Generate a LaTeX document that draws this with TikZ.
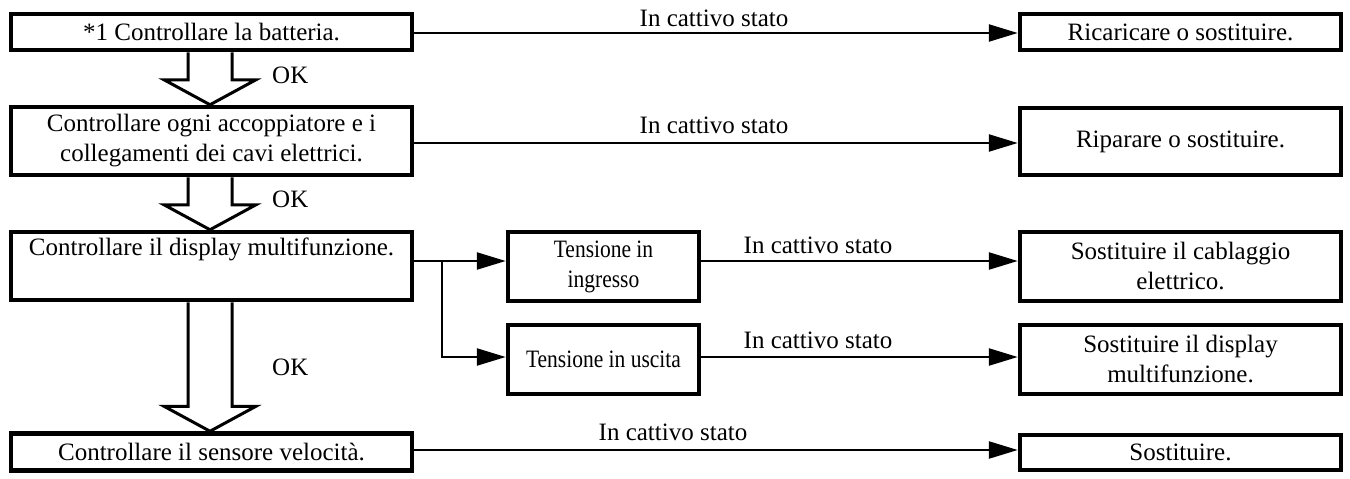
\documentclass[tikz,border=0pt]{standalone}
\usepackage{fontspec}
\setmainfont{Liberation Serif}
\usetikzlibrary{arrows.meta,calc}
\newcommand{\narrowtxt}[1]{\scalebox{0.86}[1]{#1}}
\begin{document}
\begin{tikzpicture}[x=1pt,y=-1pt,
  every node/.style={font=\fontsize{25pt}{30pt}\selectfont},
  box/.style={draw, line width=4.5pt, inner sep=0pt, align=center},
  conn/.style={line width=2.5pt, -{Triangle[length=29pt,width=17pt]}},
  hollow/.style={line width=3pt, line join=miter},
  lab/.style={anchor=base, inner sep=0pt},
  oklab/.style={anchor=west, inner sep=0pt}]
\useasboundingbox (0,0) rectangle (1350,479);
% left column
\node[box, minimum width=401pt, minimum height=36pt] (b1) at (211.5,32) {*1 Controllare la batteria.};
\node[box, minimum width=401pt, minimum height=68pt] (b2) at (211.5,141) {Controllare ogni accoppiatore e i\\collegamenti dei cavi elettrici.};
\node[box, minimum width=401pt, minimum height=68pt] (b3) at (211.5,266) {Controllare il display multifunzione.\\\strut};
\node[box, minimum width=401pt, minimum height=37pt] (b5) at (211.5,452) {Controllare il sensore velocità.};
% middle
\node[box, minimum width=191pt, minimum height=69pt] (ti) at (603.5,266.5) {\narrowtxt{Tensione in}\\\narrowtxt{ingresso}};
\node[box, minimum width=191pt, minimum height=69pt] (tu) at (603.5,359.5) {\narrowtxt{Tensione in uscita}};
% right column
\node[box, minimum width=321pt, minimum height=36pt] (r1) at (1180.5,32) {Ricaricare o sostituire.};
\node[box, minimum width=321pt, minimum height=67pt] (r2) at (1180.5,141.5) {Riparare o sostituire.};
\node[box, minimum width=321pt, minimum height=69pt] (r3) at (1180.5,266.5) {Sostituire il cablaggio\\elettrico.};
\node[box, minimum width=321pt, minimum height=69pt] (r4) at (1180.5,359.5) {Sostituire il display\\multifunzione.};
\node[box, minimum width=321pt, minimum height=35pt] (r5) at (1180.5,452.5) {Sostituire.};
% horizontal connectors
\draw[conn] ([yshift=-1pt]b1.east) -- ([yshift=-1pt]r1.west);
\draw[conn] ([yshift=-2pt]b2.east) -- ([yshift=-1.5pt]r2.west);
\draw[conn] ([yshift=5pt]b3.east) -- ([yshift=5.5pt]ti.west);
\coordinate (br) at (442,261);
\draw[conn] (br) |- ([yshift=2.5pt]tu.west);
\draw[conn] ([yshift=5.5pt]ti.east) -- ([yshift=5.5pt]r3.west);
\draw[conn] ([yshift=2.5pt]tu.east) -- ([yshift=2.5pt]r4.west);
\draw[conn] ([yshift=2pt]b5.east) -- ([yshift=2.5pt]r5.west);
% labels
\node[lab] (l1) at (714,26) {In cattivo stato};
\node[lab] (l2) at (714,133) {In cattivo stato};
\node[lab] (l3) at (818,253) {In cattivo stato};
\node[lab] (l4) at (818,348) {In cattivo stato};
\node[lab] (l5) at (673,440) {In cattivo stato};
% hollow arrows
\draw[hollow] ($(b1.south)+(-23.5,0)$) -- ($(b2.north)+(-23.5,-25)$) -- ($(b2.north)+(-47.5,-25)$) -- ($(b2.north)+(-1.5,0)$)
  -- ($(b2.north)+(44.5,-25)$) -- ($(b2.north)+(20.5,-25)$) -- ($(b1.south)+(20.5,0)$);
\draw[hollow] ($(b2.south)+(-23.5,0)$) -- ($(b3.north)+(-23.5,-25)$) -- ($(b3.north)+(-47.5,-25)$) -- ($(b3.north)+(-1.5,0)$)
  -- ($(b3.north)+(44.5,-25)$) -- ($(b3.north)+(20.5,-25)$) -- ($(b2.south)+(20.5,0)$);
\draw[hollow] ($(b3.south)+(-23.5,0)$) -- ($(b5.north)+(-23.5,-25)$) -- ($(b5.north)+(-47.5,-25)$) -- ($(b5.north)+(-1.5,0)$)
  -- ($(b5.north)+(44.5,-25)$) -- ($(b5.north)+(20.5,-25)$) -- ($(b3.south)+(20.5,0)$);
\node[oklab] (ok1) at (272,75) {OK};
\node[oklab] (ok2) at (272,199) {OK};
\node[oklab] (ok3) at (272,367) {OK};
\end{tikzpicture}
\end{document}
